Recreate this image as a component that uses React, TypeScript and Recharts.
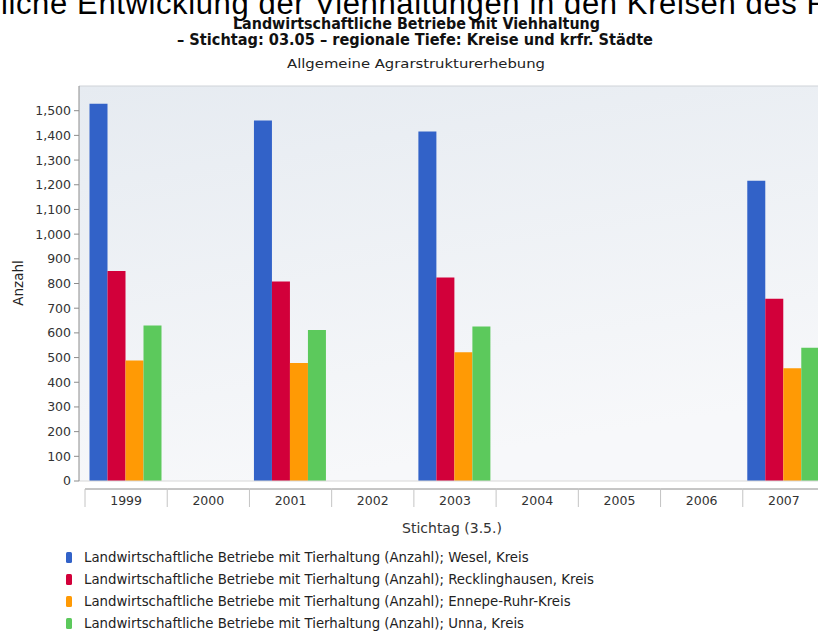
import { Bar, BarChart, CartesianGrid, ReferenceLine, XAxis, YAxis } from 'recharts'

// Werte (Anzahl Betriebe mit Tierhaltung)
const JAHRE = ['1999', '2000', '2001', '2002', '2003', '2004', '2005', '2006', '2007']
const WESEL = [1528, null, 1460, null, 1416, null, null, null, 1216]
const RECKLINGHAUSEN = [851, null, 808, null, 824, null, null, null, 738]
const ENNEPE_RUHR = [488, null, 478, null, 522, null, null, null, 457]
const UNNA = [630, null, 612, null, 626, null, null, null, 540]

const Y_TICKS = [0, 100, 200, 300, 400, 500, 600, 700, 800, 900, 1000, 1100, 1200, 1300, 1400, 1500]

const SERIEN = [
  { key: 'wesel', name: 'Landwirtschaftliche Betriebe mit Tierhaltung (Anzahl); Wesel, Kreis', color: '#3262c8', werte: WESEL },
  { key: 'reck', name: 'Landwirtschaftliche Betriebe mit Tierhaltung (Anzahl); Recklinghausen, Kreis', color: '#d2003a', werte: RECKLINGHAUSEN },
  { key: 'ennepe', name: 'Landwirtschaftliche Betriebe mit Tierhaltung (Anzahl); Ennepe-Ruhr-Kreis', color: '#ff9a05', werte: ENNEPE_RUHR },
  { key: 'unna', name: 'Landwirtschaftliche Betriebe mit Tierhaltung (Anzahl); Unna, Kreis', color: '#5cc95c', werte: UNNA },
]

const FONT = '"DejaVu Sans", sans-serif'

const chartData = JAHRE.map((jahr, i) => {
  const row: Record<string, string | number | null> = { jahr }
  for (const s of SERIEN) row[s.key] = s.werte[i]
  return row
})

function JahrTick(props: any) {
  const { x, y, payload, index } = props
  const half = payload?.offset ?? 41
  const top = y + 8
  const last = index === JAHRE.length - 1
  return (
    <g>
      <line x1={x - half} x2={x + half} y1={top} y2={top} stroke="#8c8c8c" />
      <line x1={x - half} x2={x - half} y1={top} y2={top + 18} stroke="#c4c4c4" />
      {last && <line x1={x + half} x2={x + half} y1={top} y2={top + 18} stroke="#c4c4c4" />}
      <text x={x} y={top + 16} textAnchor="middle" fontSize={12.5} fontFamily={FONT} fill="#333">
        {payload.value}
      </text>
    </g>
  )
}

export default function App() {
  return (
    <div
      style={{
        position: 'absolute',
        left: 0,
        top: 0,
        width: 818,
        height: 639,
        overflow: 'hidden',
        background: '#fff',
      }}
    >
      <BarChart
        width={840}
        height={639}
        data={chartData}
        margin={{ top: 86, right: 15, left: 0, bottom: 128 }}
        barCategoryGap={4.5}
        barGap={0}
      >
        <CartesianGrid horizontal={false} vertical={false} fill="url(#plotBg)" fillOpacity={1} />
        <XAxis
          dataKey="jahr"
          height={30}
          interval={0}
          tickSize={0}
          tickMargin={0}
          tickLine={false}
          axisLine={false}
          padding={{ left: 6, right: 0 }}
          tick={<JahrTick />}
        />
        <YAxis
          width={79}
          domain={[0, 1600]}
          ticks={Y_TICKS}
          tickSize={5}
          tickMargin={3}
          tickFormatter={(v: number) => v.toLocaleString('en-US')}
          tick={{ fill: '#333', fontSize: 12.5, fontFamily: FONT }}
          axisLine={{ stroke: '#8c8c8c' }}
          tickLine={{ stroke: '#8c8c8c' }}
        />
        <ReferenceLine y={1600} stroke="#cfd3d8" />
        <ReferenceLine y={0} stroke="#d8d8d8" />
        {SERIEN.map((s) => (
          <Bar key={s.key} dataKey={s.key} name={s.name} fill={s.color} isAnimationActive={false} />
        ))}
      </BarChart>

      <svg
        width={818}
        height={639}
        style={{ position: 'absolute', left: 0, top: 0, pointerEvents: 'none' }}
      >
        <defs>
          <linearGradient id="plotBg" x1="0" y1="0" x2="0.3" y2="1">
            <stop offset="0%" stopColor="#e6ebf1" />
            <stop offset="100%" stopColor="#f7f8fa" />
          </linearGradient>
        </defs>
        <text
          x={1}
          y={13.5}
          fontSize={31}
          fontFamily='"Liberation Sans", Arial, sans-serif'
          textLength={828}
          lengthAdjust="spacing"
          fill="#000"
        >
          liche Entwicklung der Viehhaltungen in den Kreisen des R
        </text>
        <text
          x={416.5}
          y={29}
          textAnchor="middle"
          fontSize={15}
          fontWeight="bold"
          fontFamily='"DejaVu Sans Condensed", "DejaVu Sans", sans-serif'
          textLength={367}
          lengthAdjust="spacingAndGlyphs"
          fill="#111"
        >
          Landwirtschaftliche Betriebe mit Viehhaltung
        </text>
        <text
          x={415}
          y={45}
          textAnchor="middle"
          fontSize={15}
          fontWeight="bold"
          fontFamily='"DejaVu Sans Condensed", "DejaVu Sans", sans-serif'
          textLength={476}
          lengthAdjust="spacingAndGlyphs"
          fill="#111"
        >
          – Stichtag: 03.05 – regionale Tiefe: Kreise und krfr. Städte
        </text>
        <text
          x={416}
          y={68}
          textAnchor="middle"
          fontSize={13}
          fontFamily='"DejaVu Sans Condensed", "DejaVu Sans", sans-serif'
          textLength={258}
          lengthAdjust="spacingAndGlyphs"
          fill="#222"
        >
          Allgemeine Agrarstrukturerhebung
        </text>
        <text
          x={18}
          y={283}
          transform="rotate(-90 18 283)"
          textAnchor="middle"
          dominantBaseline="central"
          fontSize={13.5}
          fontFamily={FONT}
          fill="#222"
        >
          Anzahl
        </text>
        <text x={452} y={533} textAnchor="middle" fontSize={14} fontFamily={FONT} fill="#333">
          Stichtag (3.5.)
        </text>
        {SERIEN.map((s, i) => {
          const cy = 557.5 + i * 22
          return (
            <g key={s.key}>
              <rect x={66} y={cy - 5.5} width={6} height={11} rx={1.5} fill={s.color} />
              <text x={84} y={cy + 4.5} fontSize={13.3} fontFamily={FONT} fill="#222">
                {s.name}
              </text>
            </g>
          )
        })}
      </svg>
    </div>
  )
}
